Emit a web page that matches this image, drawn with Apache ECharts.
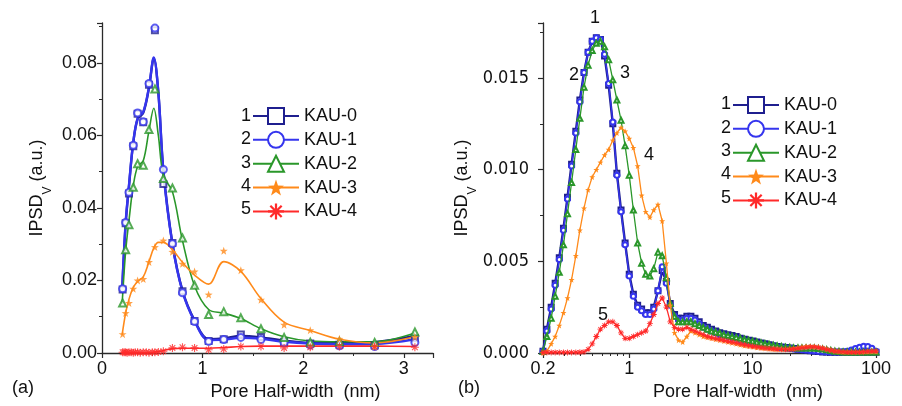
<!DOCTYPE html>
<html><head><meta charset="utf-8">
<script src="https://cdn.jsdelivr.net/npm/echarts@6/dist/echarts.min.js"></script>
<style>html,body{margin:0;padding:0;background:#fff}#c{width:902px;height:406px}</style>
</head><body><div id="c"></div>
<script>
// ---------- DATA ----------
const names = ['KAU-0', 'KAU-1', 'KAU-2', 'KAU-3', 'KAU-4'];
const colors = ['#1f1f8f', '#3535ee', '#2a972a', '#ff8a1a', '#ff2a2a'];

// Panel (a): marker positions (nm) and values
const aX = [0.205, 0.235, 0.268, 0.311, 0.354, 0.41, 0.467, 0.526, 0.61, 0.70, 0.80, 0.92, 1.06, 1.21, 1.38, 1.58, 1.81, 2.07, 2.36, 2.71, 3.11];
const a0 = [0.0175, 0.0358, 0.0440, 0.0570, 0.0660, 0.0636, 0.0740, 0.0890, 0.0466, 0.0303, 0.0170, 0.0088, 0.0033, 0.0038, 0.0051, 0.0044, 0.0031, 0.0026, 0.0023, 0.0021, 0.0041];
const a1 = [0.0177, 0.0360, 0.0443, 0.0573, 0.0662, 0.0638, 0.0743, 0.0896, 0.0506, 0.0301, 0.0166, 0.0087, 0.0032, 0.0037, 0.0043, 0.0037, 0.0028, 0.0022, 0.0020, 0.0018, 0.0029];
const a2 = [0.0138, 0.0285, 0.0354, 0.0457, 0.0522, 0.0518, 0.0616, 0.0728, 0.0481, 0.0455, 0.0317, 0.0187, 0.0106, 0.0114, 0.0097, 0.0067, 0.0043, 0.0030, 0.0032, 0.0029, 0.0058];
const a3 = [0.0052, 0.0110, 0.0138, 0.0177, 0.0200, 0.0204, 0.0251, 0.0292, 0.0310, 0.0279, 0.0246, 0.0225, 0.0161, 0.0282, 0.0228, 0.0147, 0.0078, 0.0063, 0.0039, 0.0018, 0.0044];
const a4X = [0.205, 0.22, 0.235, 0.25, 0.268, 0.29, 0.311, 0.33, 0.354, 0.38, 0.41, 0.44, 0.467, 0.50, 0.526, 0.56, 0.61, 0.70, 0.80, 0.92, 1.06, 1.21, 1.38, 1.58, 1.81, 2.07, 2.36, 2.71, 3.11];
const a4 = [0.0002, 0.0002, 0.0002, 0.0001, 0.0002, 0.0002, 0.0001, 0.0002, 0.0002, 0.0001, 0.0002, 0.0002, 0.0001, 0.0002, 0.0002, 0.0003, 0.0005, 0.0014, 0.0016, 0.0014, 0.0009, 0.0011, 0.0018, 0.0018, 0.0014, 0.0016, 0.0018, 0.0018, 0.0016];

// Panel (a): fitted smooth curves
const cX = [0.2, 0.235, 0.27, 0.31, 0.355, 0.41, 0.465, 0.515, 0.56, 0.61, 0.70, 0.80, 0.92, 1.06, 1.21, 1.38, 1.58, 1.81, 2.07, 2.36, 2.71, 3.11];
const c0 = [0.0170, 0.0355, 0.0465, 0.0578, 0.0646, 0.0662, 0.0728, 0.0812, 0.0718, 0.0505, 0.0302, 0.0172, 0.0090, 0.0038, 0.0040, 0.0047, 0.0043, 0.0034, 0.0028, 0.0027, 0.0030, 0.0047];
const c1 = [0.0172, 0.0360, 0.0468, 0.0580, 0.0648, 0.0665, 0.0730, 0.0815, 0.0720, 0.0500, 0.0300, 0.0170, 0.0088, 0.0036, 0.0037, 0.0042, 0.0039, 0.0031, 0.0026, 0.0024, 0.0025, 0.0038];
const c2 = [0.0135, 0.0280, 0.0370, 0.0460, 0.0515, 0.0530, 0.0610, 0.0675, 0.0600, 0.0490, 0.0445, 0.0310, 0.0185, 0.0120, 0.0110, 0.0095, 0.0067, 0.0045, 0.0033, 0.0031, 0.0031, 0.0055];
const c3 = [0.0050, 0.0110, 0.0150, 0.0180, 0.0198, 0.0210, 0.0250, 0.0290, 0.0305, 0.0305, 0.0285, 0.0250, 0.0215, 0.0190, 0.0252, 0.0225, 0.0150, 0.0085, 0.0062, 0.0038, 0.0028, 0.0045];
const c4 = [0.0000, 0.0000, 0.0000, 0.0000, 0.0000, 0.0000, 0.0001, 0.0002, 0.0004, 0.0007, 0.0012, 0.0013, 0.0013, 0.0013, 0.0015, 0.0018, 0.0019, 0.0019, 0.0019, 0.0019, 0.0019, 0.0018];

// Panel (b): pore half-width (nm, log axis) and IPSD values
const bX = [0.2, 0.215, 0.233, 0.251, 0.271, 0.293, 0.316, 0.341, 0.369, 0.398, 0.430, 0.464, 0.501, 0.541, 0.584, 0.631, 0.681, 0.736, 0.794, 0.858, 0.926, 1.0, 1.08, 1.17, 1.26, 1.36, 1.47, 1.58, 1.71, 1.85, 2.0, 2.15, 2.33, 2.51, 2.71, 2.93, 3.16, 3.41, 3.69, 3.98, 4.30, 4.64, 5.01, 5.41, 5.84, 6.31, 6.81, 7.36, 7.94, 8.58, 9.26, 10.0, 10.8, 11.7, 12.6, 13.6, 14.7, 15.8, 17.1, 18.5, 20.0, 21.5, 23.3, 25.1, 27.1, 29.3, 31.6, 34.1, 36.9, 39.8, 43.0, 46.4, 50.1, 54.1, 58.4, 63.1, 68.1, 73.6, 79.4, 85.8, 92.6, 100];
const b0 = [0.0001, 0.0013, 0.0025, 0.0038, 0.0052, 0.0068, 0.0085, 0.0103, 0.0121, 0.0138, 0.0153, 0.0164, 0.0170, 0.0172, 0.0171, 0.0162, 0.0146, 0.0125, 0.0098, 0.0078, 0.0060, 0.0043, 0.0032, 0.0026, 0.0024, 0.0022, 0.0022, 0.0025, 0.0034, 0.0045, 0.0039, 0.0027, 0.0021, 0.0019, 0.0019, 0.0020, 0.0020, 0.0019, 0.0017, 0.0015, 0.0014, 0.0013, 0.0012, 0.0011, 0.00105, 0.0010, 0.00095, 0.0009, 0.0008, 0.00075, 0.0007, 0.00065, 0.0006, 0.00055, 0.0005, 0.00045, 0.0004, 0.00036, 0.00033, 0.0003, 0.00027, 0.00024, 0.00021, 0.00018, 0.00015, 0.00012, 0.0001, 0.00008, 0.00006, 0.00005, 0.00004, 0.00004, 0.00004, 0.00004, 0.00004, 0.00004, 0.00004, 0.00004, 0.00004, 0.00004, 0.00004, 0.00004];
const b1 = [0.0001, 0.0012, 0.0024, 0.0037, 0.0051, 0.0067, 0.0084, 0.0102, 0.0120, 0.0137, 0.0153, 0.0164, 0.0170, 0.0172, 0.0171, 0.0163, 0.0147, 0.0126, 0.0097, 0.0077, 0.0059, 0.0042, 0.0031, 0.0025, 0.0023, 0.0021, 0.0021, 0.0024, 0.0034, 0.0047, 0.0038, 0.0026, 0.0020, 0.0018, 0.0018, 0.0019, 0.0019, 0.0018, 0.0016, 0.0014, 0.0013, 0.0012, 0.0011, 0.0010, 0.00095, 0.0009, 0.00085, 0.0008, 0.0007, 0.00065, 0.0006, 0.00055, 0.0005, 0.00045, 0.0004, 0.00037, 0.00034, 0.00031, 0.00028, 0.00026, 0.00024, 0.00022, 0.0002, 0.00018, 0.00016, 0.00014, 0.00012, 0.0001, 0.00008, 0.00007, 0.00006, 0.00006, 0.00006, 0.00007, 0.0001, 0.00016, 0.00024, 0.00032, 0.00037, 0.00036, 0.00026, 0.0001];
const b2 = [0.0001, 0.0009, 0.0019, 0.0031, 0.0044, 0.0059, 0.0076, 0.0093, 0.0111, 0.0128, 0.0145, 0.0157, 0.0165, 0.0169, 0.0170, 0.0167, 0.0160, 0.0149, 0.0138, 0.0127, 0.0113, 0.0097, 0.0078, 0.0060, 0.0049, 0.0043, 0.0042, 0.0046, 0.0055, 0.0053, 0.0041, 0.0027, 0.0020, 0.0017, 0.0017, 0.0017, 0.0017, 0.0016, 0.0015, 0.0014, 0.0013, 0.0012, 0.00115, 0.0011, 0.0010, 0.00095, 0.0009, 0.00085, 0.0008, 0.00075, 0.0007, 0.00065, 0.0006, 0.00055, 0.0005, 0.00046, 0.00042, 0.00038, 0.00035, 0.00032, 0.0003, 0.00028, 0.00027, 0.00027, 0.00027, 0.00027, 0.00027, 0.00025, 0.00022, 0.00018, 0.00014, 0.0001, 0.00008, 0.00006, 0.00005, 0.00005, 0.00005, 0.00005, 0.00005, 0.00005, 0.00005, 0.00005];
const b3 = [0.0000, 0.0001, 0.0005, 0.0009, 0.0015, 0.0022, 0.0030, 0.0040, 0.0053, 0.0067, 0.0079, 0.0089, 0.0096, 0.0100, 0.0104, 0.0108, 0.0111, 0.0116, 0.0120, 0.0123, 0.0121, 0.0117, 0.0112, 0.0102, 0.0086, 0.0077, 0.0074, 0.0078, 0.0081, 0.0072, 0.0049, 0.0026, 0.0011, 0.0007, 0.0006, 0.0009, 0.0012, 0.0011, 0.0010, 0.0009, 0.00085, 0.0008, 0.00075, 0.0007, 0.00065, 0.0006, 0.00055, 0.0005, 0.00045, 0.0004, 0.00037, 0.00034, 0.0003, 0.00027, 0.00025, 0.00023, 0.00021, 0.0002, 0.0002, 0.0002, 0.00022, 0.00025, 0.00029, 0.00033, 0.00036, 0.00037, 0.00036, 0.00033, 0.00028, 0.00022, 0.00016, 0.00011, 0.00008, 0.00006, 0.00005, 0.00005, 0.00005, 0.00006, 0.00007, 0.00008, 0.00008, 0.00008];
const b4 = [0.00003, 0.00003, 0.00003, 0.00003, 0.00003, 0.00003, 0.00003, 0.00003, 0.00003, 0.00004, 0.00006, 0.0002, 0.0005, 0.0009, 0.0013, 0.0015, 0.0017, 0.0017, 0.0015, 0.0011, 0.0008, 0.0008, 0.0009, 0.0010, 0.0011, 0.0012, 0.0016, 0.0021, 0.0027, 0.0030, 0.0025, 0.0017, 0.0014, 0.0013, 0.0013, 0.0014, 0.0013, 0.0012, 0.0011, 0.0010, 0.0009, 0.00085, 0.0008, 0.00075, 0.0007, 0.00065, 0.0006, 0.00055, 0.0005, 0.00045, 0.0004, 0.00037, 0.00033, 0.0003, 0.00027, 0.00025, 0.00023, 0.00021, 0.0002, 0.0002, 0.0002, 0.00022, 0.00025, 0.00028, 0.00031, 0.00033, 0.00033, 0.0003, 0.00026, 0.0002, 0.00015, 0.0001, 0.00008, 0.00006, 0.00005, 0.00005, 0.00005, 0.00005, 0.00006, 0.00008, 0.0001, 0.0001];

// Tick values
const aXTicks = [0, 1, 2, 3];
const bXMinorTicks = [0.3, 0.4, 0.5, 0.6, 0.7, 0.8, 0.9, 2, 3, 4, 5, 6, 7, 8, 9, 20, 30, 40, 50, 60, 70, 80, 90];

// ---------- STYLE ----------
const FONT = '"Liberation Sans", Arial, Helvetica, sans-serif';
const NARROW = '"Liberation Sans Narrow", "Arial Narrow", "DejaVu Sans Condensed", "Liberation Sans", Arial, sans-serif';
const TXT = '#111';
const AX = '#2a2a2a';
const STAR = 'path://M0,-10L2.35,-3.24L9.51,-3.09L3.8,1.24L5.88,8.09L0,4L-5.88,8.09L-3.8,1.24L-9.51,-3.09L-2.35,-3.24Z';
const AST = 'path://M-1.4,-10L1.4,-10L1.4,10L-1.4,10Z M-10,-1.4L10,-1.4L10,1.4L-10,1.4Z M-6.08,-8.06L8.06,6.08L6.08,8.06L-8.06,-6.08Z M-8.06,6.08L6.08,-8.06L8.06,-6.08L-6.08,8.06Z';
const symbols = ['emptyRect', 'emptyCircle', 'emptyTriangle', STAR, AST];
const aSizes = [6, 7, 7, 8, 8];

const aMarkX = [aX, aX, aX, aX, a4X];
const aMarkY = [a0, a1, a2, a3, a4];
const aCurve = [c0, c1, c2, c3, c4];
const bY = [b0, b1, b2, b3, b4];
const zip = (xs, ys) => xs.map((x, i) => [x, ys[i]]);

const axisCommon = {
  axisLine: { show: true, lineStyle: { color: AX, width: 1.3 } },
  axisTick: { show: true, inside: false, length: 5, lineStyle: { color: AX, width: 1.2 } },
  splitLine: { show: false },
  nameTextStyle: { fontFamily: FONT, fontSize: 18, color: TXT }
};

const series = [];
// panel (b) series first (legend uses these)
for (let k = 0; k < 5; k++) {
  series.push({
    name: names[k], type: 'line', xAxisIndex: 1, yAxisIndex: 1,
    data: zip(bX, bY[k]),
    symbol: symbols[k], symbolSize: k === 3 || k === 4 ? 6 : 5,
    showAllSymbol: true,
    lineStyle: { color: colors[k], width: k === 0 ? 2.4 : 1.3 },
    itemStyle: { color: colors[k], borderWidth: 1 },
    emphasis: { disabled: true }, silent: true, z: 2 + k
  });
}
// panel (a): smooth fitted curves + markers
for (let k = 0; k < 5; k++) {
  series.push({
    name: names[k] + ' fit', type: 'line', xAxisIndex: 0, yAxisIndex: 0,
    data: zip(cX, aCurve[k]), smooth: 0.35, showSymbol: false, symbol: 'none',
    lineStyle: { color: colors[k], width: k < 2 ? 2.4 : 1.6 },
    emphasis: { disabled: true }, silent: true, z: 2 + k
  });
}
for (let k = 0; k < 5; k++) {
  series.push({
    name: names[k] + ' pts', type: 'scatter', xAxisIndex: 0, yAxisIndex: 0,
    data: zip(aMarkX[k], aMarkY[k]),
    symbol: symbols[k], symbolSize: aSizes[k],
    itemStyle: { color: colors[k], borderWidth: 1.1 },
    emphasis: { disabled: true }, silent: true, z: 8 + k
  });
}

const legendBase = {
  data: names, orient: 'vertical', itemWidth: 46, itemHeight: 20, itemGap: 5.85,
  padding: 0, selectedMode: false,
  textStyle: { fontFamily: FONT, fontSize: 18, color: TXT },
  lineStyle: { width: 2 }
};

const graphics = [];
const addText = (x, y, t, align) => graphics.push({
  type: 'text', x: x, y: y, silent: true,
  style: { text: t, fontFamily: FONT, fontSize: 18, fill: TXT, align: align || 'center', verticalAlign: 'middle' }
});
for (let i = 0; i < 5; i++) {
  addText(251, 116 + 23.3 * i, String(i + 1), 'right');
  addText(731, 104.5 + 23.3 * i, String(i + 1), 'right');
}
addText(595, 18, '1'); addText(574, 75, '2'); addText(625, 73, '3'); addText(649, 155, '4'); addText(603, 315, '5');
addText(12, 388, '(a)', 'left'); addText(458, 388, '(b)', 'left');

const yName = {
  name: 'IPSD{v|V} (a.u.)', nameLocation: 'middle', nameRotate: 90,
  nameTextStyle: { fontFamily: FONT, fontSize: 18, color: TXT, lineHeight: 22,
    rich: { v: { fontFamily: FONT, fontSize: 12, color: TXT, lineHeight: 22, verticalAlign: 'bottom', padding: [0, 0, -6, 0] } } }
};

const option = {
  animation: false,
  backgroundColor: '#fff',
  textStyle: { fontFamily: FONT },
  grid: [
    { left: 102, top: 23, width: 331, height: 330 },
    { left: 543, top: 23, width: 333, height: 331 }
  ],
  legend: [
    Object.assign({}, legendBase, { left: 252, top: 107 }),
    Object.assign({}, legendBase, { left: 732, top: 96 })
  ],
  xAxis: [
    Object.assign({}, axisCommon, {
      type: 'value', gridIndex: 0, min: 0, max: 3.29, interval: 1,
      minorTick: { show: true, splitNumber: 2, length: 3, lineStyle: { color: AX, width: 1 } },
      axisLabel: { fontFamily: FONT, fontSize: 18, color: TXT, margin: 7,
        formatter: v => aXTicks.indexOf(Math.round(v * 1000) / 1000) >= 0 ? String(v) : '' },
      name: 'Pore Half-width  (nm)', nameLocation: 'middle', nameGap: 30,
      nameTextStyle: { fontFamily: FONT, fontSize: 18, color: TXT, padding: [0, 0, 0, 56] }
    }),
    Object.assign({}, axisCommon, {
      type: 'log', gridIndex: 1, min: 0.2, max: 100, logBase: 10,
      axisLabel: { fontFamily: FONT, fontSize: 18, color: TXT, margin: 7 },
      name: 'Pore Half-width  (nm)', nameLocation: 'middle', nameGap: 30,
      nameTextStyle: { fontFamily: FONT, fontSize: 18, color: TXT, padding: [0, 0, 0, 57] }
    }),
    {
      type: 'log', gridIndex: 1, min: 0.2, max: 100, logBase: 10, position: 'bottom',
      axisLine: { show: false }, axisLabel: { show: false }, splitLine: { show: false },
      axisTick: { show: true, length: 3, customValues: bXMinorTicks, lineStyle: { color: AX, width: 1 } }
    }
  ],
  yAxis: [
    Object.assign({}, axisCommon, yName, {
      type: 'value', gridIndex: 0, min: 0, max: 0.091, interval: 0.02,
      minorTick: { show: true, splitNumber: 2, length: 3, lineStyle: { color: AX, width: 1 } },
      axisLabel: { fontFamily: FONT, fontSize: 18, color: TXT, margin: 5,
        formatter: v => (Math.abs(v / 0.02 - Math.round(v / 0.02)) < 1e-6 ? v.toFixed(2) : '') },
      nameGap: 54
    }),
    Object.assign({}, axisCommon, yName, {
      type: 'value', gridIndex: 1, min: 0, max: 0.018, interval: 0.005,
      minorTick: { show: true, splitNumber: 2, length: 3, lineStyle: { color: AX, width: 1 } },
      axisLabel: { fontFamily: NARROW, fontSize: 18, color: TXT, margin: 14,
        formatter: v => (Math.abs(v / 0.005 - Math.round(v / 0.005)) < 1e-6 ? v.toFixed(3) : '') },
      nameGap: 64
    })
  ],
  graphic: graphics,
  series: series
};
const chart = echarts.init(document.getElementById('c'), null, { renderer: 'canvas' });
chart.setOption(option);
</script></body></html>
